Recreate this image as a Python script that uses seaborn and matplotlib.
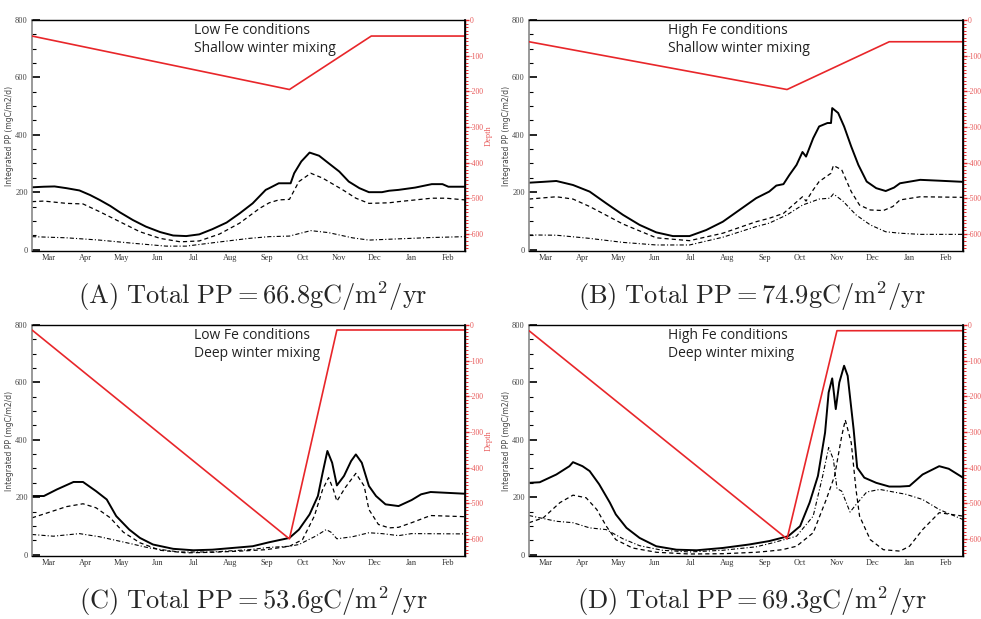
import numpy as np
import pandas as pd
import seaborn as sns
import matplotlib.pyplot as plt
from matplotlib.ticker import MultipleLocator

# days counted from 1 March
months = ["Mar", "Apr", "May", "Jun", "Jul", "Aug", "Sep", "Oct", "Nov", "Dec", "Jan", "Feb"]
month_days = [14, 45, 75, 106, 136, 167, 198, 228, 259, 289, 320, 351]

# (A) low Fe, shallow winter mixing
a_solid_days = [0, 10, 19, 29, 40, 49, 57, 66, 74, 85, 96, 108, 119, 130, 141, 152, 164, 175, 186, 197, 200, 208, 218, 221, 227, 234, 242, 250, 259, 267, 276, 284, 295, 301, 309, 323, 337, 346, 351, 365]
a_solid_pp = [217, 219, 220, 214, 206, 190, 173, 152, 130, 103, 80, 61, 49, 47, 53, 71, 94, 126, 161, 208, 214, 231, 231, 266, 307, 338, 327, 301, 272, 237, 214, 200, 200, 205, 208, 216, 228, 228, 219, 219]
a_dash_days = [0, 10, 29, 43, 57, 74, 91, 108, 125, 141, 158, 175, 192, 200, 208, 217, 225, 235, 245, 262, 273, 284, 301, 309, 337, 349, 365]
a_dash_pp = [167, 169, 161, 159, 132, 97, 62, 39, 27, 30, 54, 92, 144, 163, 173, 175, 237, 266, 249, 208, 179, 161, 163, 167, 179, 179, 173]
a_dot_days = [0, 29, 57, 85, 113, 130, 155, 183, 200, 217, 235, 250, 270, 284, 301, 337, 365]
a_dot_pp = [45, 41, 33, 22, 12, 12, 25, 39, 45, 47, 66, 59, 41, 33, 36, 42, 45]
a_depth_days = [0, 217, 286, 365]
a_depth = [-45, -195, -45, -45]

# (B) high Fe, shallow winter mixing
b_solid_days = [0, 12, 23, 37, 51, 65, 79, 93, 107, 121, 135, 149, 163, 177, 191, 202, 208, 214, 219, 225, 230, 233, 239, 244, 251, 254, 255, 260, 265, 271, 277, 284, 292, 300, 307, 312, 329, 345, 365]
b_solid_pp = [233, 236, 239, 225, 202, 161, 121, 86, 60, 47, 47, 68, 97, 138, 179, 202, 223, 228, 260, 295, 340, 324, 388, 429, 441, 441, 493, 476, 429, 359, 295, 237, 214, 204, 216, 231, 243, 240, 236]
b_dash_days = [0, 23, 37, 51, 79, 107, 135, 163, 191, 202, 214, 230, 233, 239, 244, 254, 256, 263, 271, 278, 287, 298, 306, 312, 329, 365]
b_dash_pp = [176, 184, 176, 150, 89, 41, 31, 57, 97, 109, 126, 184, 169, 208, 237, 266, 293, 278, 202, 155, 138, 136, 150, 173, 184, 182]
b_dot_days = [0, 23, 51, 79, 107, 135, 163, 191, 202, 217, 230, 244, 253, 256, 264, 275, 287, 300, 312, 329, 365]
b_dot_pp = [51, 50, 39, 25, 16, 16, 43, 80, 92, 121, 155, 176, 179, 194, 169, 121, 86, 62, 57, 53, 53]
b_depth_days = [0, 217, 303, 365]
b_depth = [-61, -195, -61, -61]

# (C) low Fe, deep winter mixing
c_solid_days = [0, 10, 21, 35, 43, 54, 63, 71, 82, 91, 102, 119, 136, 152, 169, 186, 200, 217, 225, 234, 241, 245, 249, 253, 257, 263, 269, 273, 278, 284, 290, 298, 309, 320, 328, 336, 365]
c_solid_pp = [204, 204, 227, 253, 253, 221, 192, 134, 87, 58, 35, 20, 15, 17, 23, 29, 43, 58, 87, 140, 204, 285, 361, 320, 241, 274, 326, 349, 320, 239, 204, 175, 169, 190, 210, 218, 212]
c_dash_days = [0, 15, 29, 43, 54, 66, 77, 91, 108, 130, 152, 175, 197, 217, 228, 238, 245, 250, 254, 257, 264, 273, 280, 284, 292, 301, 309, 320, 336, 365]
c_dash_pp = [128, 148, 167, 177, 163, 128, 78, 41, 15, 6, 8, 12, 17, 29, 52, 134, 227, 268, 227, 186, 233, 283, 239, 157, 105, 93, 95, 111, 136, 132]
c_dot_days = [0, 18, 40, 57, 80, 99, 124, 152, 183, 200, 217, 225, 239, 248, 252, 257, 270, 284, 295, 309, 320, 365]
c_dot_pp = [70, 64, 73, 62, 41, 23, 9, 9, 17, 25, 29, 35, 64, 87, 78, 55, 62, 76, 73, 66, 73, 72]
c_depth_days = [0, 217, 257, 365]
c_depth = [-14, -600, -14, -14]

# (D) high Fe, deep winter mixing
d_solid_days = [0, 9, 23, 34, 37, 45, 51, 59, 68, 73, 82, 93, 107, 124, 141, 163, 185, 202, 218, 228, 236, 243, 249, 252, 255, 258, 261, 265, 268, 273, 276, 282, 292, 303, 312, 320, 331, 345, 353, 365]
d_solid_pp = [250, 252, 279, 308, 322, 308, 291, 245, 181, 140, 93, 58, 29, 17, 15, 23, 35, 47, 64, 99, 181, 274, 425, 565, 614, 507, 600, 658, 623, 437, 303, 268, 250, 237, 237, 239, 279, 308, 299, 268]
d_dash_days = [0, 12, 26, 37, 48, 57, 65, 73, 87, 107, 135, 163, 191, 202, 213, 225, 239, 250, 257, 263, 266, 271, 275, 278, 287, 298, 312, 320, 331, 345, 365]
d_dash_pp = [111, 128, 181, 207, 198, 157, 99, 52, 23, 8, 2, 3, 8, 12, 17, 29, 76, 192, 274, 413, 469, 390, 227, 134, 52, 17, 12, 29, 87, 146, 134]
d_dot_days = [0, 23, 37, 51, 65, 79, 93, 112, 135, 163, 191, 205, 225, 239, 247, 252, 256, 259, 263, 270, 274, 284, 295, 317, 331, 345, 365]
d_dot_pp = [136, 116, 111, 93, 87, 55, 31, 15, 9, 15, 27, 41, 64, 134, 274, 373, 332, 230, 221, 148, 169, 218, 227, 210, 192, 157, 122]
d_depth_days = [0, 217, 259, 365]
d_depth = [-16, -600, -16, -16]

notes = ["Low Fe conditions\nShallow winter mixing",
         "High Fe conditions\nShallow winter mixing",
         "Low Fe conditions\nDeep winter mixing",
         "High Fe conditions\nDeep winter mixing"]
captions = [r"$\mathrm{(A)\ Total\ PP = 66.8gC/m^2/yr}$",
            r"$\mathrm{(B)\ Total\ PP = 74.9gC/m^2/yr}$",
            r"$\mathrm{(C)\ Total\ PP = 53.6gC/m^2/yr}$",
            r"$\mathrm{(D)\ Total\ PP = 69.3gC/m^2/yr}$"]

sns.set_theme(style="white")
plt.rcParams["axes.unicode_minus"] = False
plt.rcParams["mathtext.fontset"] = "cm"
plt.rcParams["lines.scale_dashes"] = False
plt.rcParams["font.family"] = ["DejaVu Sans"]

RED = "#e8262a"
RED_TXT = "#e85a5a"
W, H = 981, 619

fig = plt.figure(figsize=(W / 100, H / 100), dpi=100)

def rect(left, top, right, bottom):
    return [left / W, 1 - bottom / H, (right - left) / W, (bottom - top) / H]

boxes = [rect(32, 20, 465, 251), rect(529, 20, 963, 251),
         rect(32, 325, 465, 556), rect(529, 325, 963, 556)]
panels = [
    (a_solid_days, a_solid_pp, a_dash_days, a_dash_pp, a_dot_days, a_dot_pp, a_depth_days, a_depth),
    (b_solid_days, b_solid_pp, b_dash_days, b_dash_pp, b_dot_days, b_dot_pp, b_depth_days, b_depth),
    (c_solid_days, c_solid_pp, c_dash_days, c_dash_pp, c_dot_days, c_dot_pp, c_depth_days, c_depth),
    (d_solid_days, d_solid_pp, d_dash_days, d_dash_pp, d_dot_days, d_dot_pp, d_depth_days, d_depth),
]
cap_pos = [(253, 296), (752, 296), (253, 601), (752, 601)]

serif = "Liberation Serif"

for i, p in enumerate(panels):
    sd, sv, dd, dv, od, ov, zd, zv = p
    ax = fig.add_axes(boxes[i])
    sns.lineplot(x=sd, y=sv, ax=ax, color="black", lw=1.4, estimator=None, sort=False)
    sns.lineplot(x=dd, y=dv, ax=ax, color="black", lw=0.9, estimator=None, sort=False,
                 linestyle=(0, (3, 2.2)))
    sns.lineplot(x=od, y=ov, ax=ax, color="black", lw=0.8, estimator=None, sort=False,
                 linestyle=(0, (3, 1.5, 0.8, 1.5)))
    ax.set_xlim(0, 365)
    ax.set_ylim(-5, 800)
    ax.set_xticks(month_days)
    ax.set_xticklabels(months, fontsize=6, family=serif, color="#333333")
    ax.tick_params(axis="x", length=0, pad=2.5)
    ax.yaxis.set_major_locator(MultipleLocator(200))
    ax.yaxis.set_minor_locator(MultipleLocator(50))
    ax.tick_params(axis="y", which="major", direction="in", length=6, width=1.2,
                   color="black", labelsize=6, labelcolor="#444444", pad=3)
    ax.tick_params(axis="y", which="minor", direction="in", length=3, width=0.8, color="black")
    for t in ax.get_yticklabels():
        t.set_family(serif)
    ax.set_ylabel("Integrated PP (mgC/m2/d)", fontsize=5.5, color="#444444", labelpad=1)
    for s in ["top", "bottom", "right"]:
        ax.spines[s].set_color("black")
        ax.spines[s].set_linewidth(1.0)
    ax.spines["left"].set_color("#888888")
    ax.spines["left"].set_linewidth(1.2)

    ax2 = ax.twinx()
    sns.lineplot(x=zd, y=zv, ax=ax2, color=RED, lw=1.2, estimator=None, sort=False)
    ax2.set_ylim(-648, 0)
    ax2.yaxis.set_major_locator(MultipleLocator(100))
    ax2.yaxis.set_minor_locator(MultipleLocator(10))
    ax2.tick_params(axis="y", which="major", direction="out", length=3, width=1.0,
                    color=RED, labelsize=5.6, labelcolor=RED_TXT, pad=0.3)
    ax2.tick_params(axis="y", which="minor", direction="out", length=2, width=0.7, color=RED)
    for t in ax2.get_yticklabels():
        t.set_family(serif)
    ax2.set_ylabel("Depth", fontsize=6, color=RED_TXT, family=serif, labelpad=0.5)
    for s in ["top", "bottom", "left"]:
        ax2.spines[s].set_visible(False)
    ax2.spines["right"].set_color("black")

    tx = 0.374 if i % 2 == 0 else 0.32
    ax.text(tx, 0.985, notes[i], transform=ax.transAxes, ha="left", va="top",
            fontsize=10, family="Open Sans", color="#222222", linespacing=1.25)

    cx, cy = cap_pos[i]
    fig.text(cx / W, 1 - cy / H, captions[i], ha="center", va="center", fontsize=19)

fig.savefig("out.png", dpi=100)
